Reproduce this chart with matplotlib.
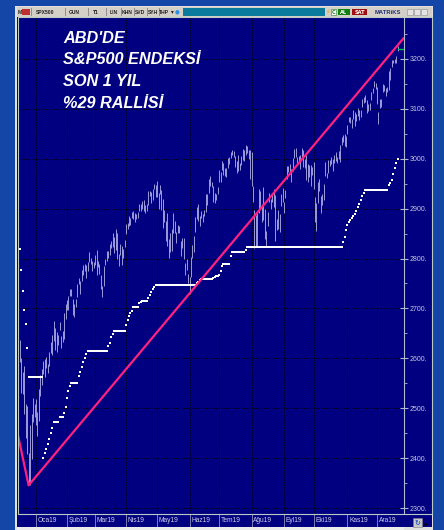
import matplotlib
matplotlib.use("Agg")
import matplotlib.pyplot as plt
from matplotlib.patches import Rectangle
from matplotlib.ticker import MultipleLocator, FuncFormatter

W, H = 444, 530

# --- data (bar index = trading day, 0 = 14 Dec 2018) ---
months = ["Oca19", "Şub19", "Mar19", "Nis19", "May19", "Haz19",
          "Tem19", "Ağu19", "Eyl19", "Eki19", "Kas19", "Ara19"]
month_start = [11, 32, 51, 72, 93, 115, 135, 157, 179, 199, 222, 242]

high = [
    # Ara18
    2637, 2601, 2573, 2585, 2509, 2504, 2410, 2467, 2489, 2520, 2509,
    # Oca19
    2519, 2493, 2538, 2566, 2579, 2595, 2598, 2602, 2589, 2613, 2632, 2646, 2675, 2661, 2653, 2647, 2673,
    2645, 2654, 2690, 2708,
    # Sub19
    2717, 2724, 2738, 2739, 2718, 2708, 2719, 2748, 2761, 2755, 2776, 2788, 2789, 2786, 2793, 2814, 2801,
    2795, 2793,
    # Mar19
    2808, 2817, 2796, 2790, 2767, 2744, 2785, 2799, 2816, 2815, 2830, 2836, 2852, 2843, 2860, 2852, 2809,
    2829, 2825, 2820, 2837,
    # Nis19
    2869, 2872, 2885, 2881, 2893, 2896, 2891, 2889, 2893, 2910, 2909, 2916, 2918, 2908, 2909, 2936, 2936,
    2933, 2940, 2949, 2948,
    # May19
    2955, 2931, 2947, 2937, 2920, 2897, 2875, 2892, 2840, 2852, 2859, 2892, 2876, 2853, 2868, 2865, 2836,
    2841, 2841, 2792, 2799, 2768,
    # Haz19
    2763, 2804, 2827, 2846, 2884, 2904, 2910, 2885, 2895, 2889, 2898, 2930, 2929, 2959, 2965, 2954, 2946,
    2932, 2930, 2944,
    # Tem19
    2978, 2974, 2996, 2992, 2981, 2981, 3002, 3003, 3014, 3017, 3015, 3006, 2996, 3007, 2991, 3006, 3019,
    3017, 3028, 3025, 3017, 3017,
    # Agu19
    3014, 2946, 2898, 2887, 2892, 2939, 2935, 2909, 2943, 2899, 2856, 2893, 2931, 2920, 2928, 2940, 2928,
    2879, 2898, 2890, 2930, 2941,
    # Eyl19
    2914, 2938, 2985, 2986, 2989, 2980, 3001, 3020, 3021, 3003, 3006, 3008, 3022, 3017, 2999, 3007, 2989,
    2987, 2988, 2983,
    # Eki19
    2993, 2924, 2911, 2953, 2959, 2925, 2929, 2949, 2993, 2972, 2998, 2997, 3004, 3000, 3008, 3014, 3004,
    3016, 3027, 3044, 3047, 3050, 3046,
    # Kas19
    3067, 3084, 3083, 3079, 3097, 3094, 3089, 3102, 3098, 3098, 3120, 3124, 3127, 3118, 3110, 3112, 3134,
    3142, 3155, 3151,
    # Ara19
    3144, 3094, 3120, 3120, 3150, 3148, 3142, 3143, 3176, 3182, 3198, 3198, 3199, 3206, 3226,
]

low = [
    2593, 2530, 2528, 2488, 2441, 2408, 2351, 2347, 2398, 2472, 2482,
    2467, 2444, 2474, 2524, 2547, 2568, 2562, 2580, 2570, 2585, 2610, 2606, 2634, 2617, 2612, 2627, 2657,
    2621, 2633, 2639, 2678,
    2697, 2696, 2724, 2725, 2687, 2682, 2703, 2722, 2748, 2729, 2754, 2767, 2774, 2760, 2775, 2794, 2789,
    2775, 2781,
    2788, 2767, 2782, 2768, 2739, 2722, 2745, 2786, 2796, 2801, 2808, 2821, 2823, 2812, 2817, 2800, 2785,
    2808, 2788, 2802, 2823,
    2849, 2859, 2866, 2867, 2882, 2880, 2874, 2880, 2882, 2896, 2896, 2900, 2896, 2891, 2896, 2908, 2926,
    2912, 2917, 2940, 2924,
    2923, 2900, 2930, 2898, 2862, 2873, 2836, 2825, 2801, 2813, 2815, 2852, 2851, 2831, 2852, 2851, 2805,
    2821, 2799, 2766, 2776, 2750,
    2728, 2762, 2801, 2814, 2853, 2880, 2876, 2866, 2882, 2874, 2885, 2893, 2907, 2932, 2946, 2944, 2913,
    2912, 2918, 2929,
    2953, 2953, 2977, 2967, 2965, 2963, 2981, 2989, 3001, 3008, 3003, 2984, 2971, 2976, 2977, 2988, 2997,
    2996, 3008, 3012, 3000, 2959,
    2945, 2914, 2822, 2825, 2826, 2891, 2901, 2873, 2878, 2840, 2826, 2865, 2913, 2899, 2913, 2904, 2835,
    2857, 2860, 2853, 2905, 2914,
    2891, 2922, 2960, 2974, 2970, 2954, 2976, 3001, 3004, 2991, 2993, 2979, 3003, 2983, 2982, 2957, 2953,
    2963, 2946, 2968,
    2939, 2874, 2855, 2911, 2935, 2892, 2907, 2917, 2965, 2962, 2971, 2985, 2989, 2976, 2992, 2995, 2991,
    2999, 2994, 3027, 3033, 3026, 3024,
    3050, 3073, 3072, 3061, 3080, 3066, 3076, 3085, 3078, 3083, 3104, 3111, 3113, 3091, 3095, 3097, 3117,
    3131, 3143, 3139,
    3110, 3070, 3102, 3103, 3134, 3135, 3125, 3133, 3138, 3157, 3184, 3191, 3191, 3191, 3216,
]

# white trailing stop dots
stop = [
    2820, 2776, 2735, 2697, 2668, 2621, 2562, 2562, 2562, 2562, 2562,
    2562, 2562, 2562, 2562, 2562, 2400, 2410, 2418, 2428, 2438, 2451, 2460, 2472, 2472, 2472, 2472, 2483,
    2483, 2483, 2491, 2502,
    2520, 2534, 2545, 2550, 2550, 2550, 2550, 2550, 2565, 2572, 2582, 2592, 2600, 2608, 2615, 2615, 2615,
    2615, 2615,
    2615, 2615, 2615, 2615, 2615, 2615, 2615, 2615, 2615, 2625, 2631, 2643, 2648, 2655, 2655, 2655, 2655,
    2655, 2655, 2655, 2655,
    2667, 2677, 2685, 2690, 2695, 2703, 2703, 2703, 2703, 2710, 2713, 2715, 2715, 2715, 2715, 2720, 2726,
    2732, 2738, 2743, 2746,
    2746, 2746, 2746, 2746, 2746, 2746, 2746, 2746, 2746, 2746, 2746, 2746, 2746, 2746, 2746, 2746, 2746,
    2746, 2746, 2746, 2746, 2746,
    2746, 2746, 2746, 2746, 2746, 2750, 2753, 2756, 2758, 2758, 2758, 2758, 2758, 2758, 2758, 2758, 2760,
    2762, 2764, 2765,
    2766, 2775, 2784, 2790, 2790, 2790, 2790, 2790, 2805, 2813, 2813, 2813, 2813, 2813, 2813, 2813, 2813,
    2813, 2818, 2823, 2823, 2823,
    2823, 2823, 2823, 2823, 2823, 2823, 2823, 2823, 2823, 2823, 2823, 2823, 2823, 2823, 2823, 2823, 2823,
    2823, 2823, 2823, 2823, 2823,
    2823, 2823, 2823, 2823, 2823, 2823, 2823, 2823, 2823, 2823, 2823, 2823, 2823, 2823, 2823, 2823, 2823,
    2823, 2823, 2823,
    2823, 2823, 2823, 2823, 2823, 2823, 2823, 2823, 2823, 2823, 2823, 2823, 2823, 2823, 2823, 2823, 2823,
    2823, 2823, 2823, 2833, 2843, 2857,
    2867, 2873, 2878, 2882, 2885, 2890, 2896, 2903, 2910, 2918, 2925, 2931, 2938, 2938, 2938, 2938, 2938,
    2938, 2938, 2938,
    2938, 2938, 2938, 2938, 2938, 2938, 2938, 2938, 2947, 2952, 2957, 2970, 2982, 2992, 3000,
]

# pink trend line (bar index, price)
trend_x = [-1.2, 6, 260.3]
trend_y = [2446, 2346, 3242]
last_price = 3219

title_lines = ["ABD'DE", "S&P500 ENDEKSİ", "SON 1 YIL", "%29 RALLİSİ"]

NAVY = "#000080"
FRAME = "#1446a8"


def fx(x):
    return x / W


def fy(y):
    return 1 - y / H


def rect(x0, y0, x1, y1, fc, ec="none", lw=0, z=1):
    fig.add_artist(Rectangle((fx(x0), fy(y1)), (x1 - x0) / W, (y1 - y0) / H,
                             transform=fig.transFigure, fc=fc, ec=ec, lw=lw, zorder=z))


def txt(x, y, s, **kw):
    fig.text(fx(x), fy(y), s, **kw)


fig = plt.figure(figsize=(W / 100, H / 100), dpi=100)
fig.patch.set_facecolor(FRAME)

# window body (behind the axes)
rect(15, 6, 433, 530, "#e0e0e0", z=-3)
rect(17, 17, 432, 527, NAVY, z=-2)

# chart
ax = fig.add_axes([fx(18), fy(513), fx(404) - fx(18), (513 - 17) / H])
ax.set_facecolor(NAVY)
ax.set_xlim(-1.2, 260.3)
ax.set_ylim(2290.6, 3283.4)

xs = list(range(len(high)))
ax.vlines(xs, low, high, color="#c4c4f4", lw=0.55, zorder=3)
ax.plot(xs, stop, "s", color="white", ms=1.9, mew=0, zorder=4)
ax.plot(trend_x, trend_y, color="#ff2080", lw=1.6, zorder=5, solid_capstyle="butt")
ax.plot([256.5, 260.3], [last_price, last_price], color="#00c040", lw=1, zorder=5)

ax.yaxis.tick_right()
ax.yaxis.set_major_locator(MultipleLocator(100))
ax.yaxis.set_minor_locator(MultipleLocator(50))
ax.yaxis.set_major_formatter(FuncFormatter(lambda v, p: "%d." % v))
ax.tick_params(axis="y", which="major", direction="inout", length=6, width=0.8,
               color="#b0b8d0", labelsize=5, labelcolor="#c8c8e0", pad=1)
ax.tick_params(axis="y", which="minor", direction="out", length=2, width=0.6, color="#b0b8d0")
for lab in ax.get_yticklabels():
    lab.set_fontfamily("Liberation Sans")
ax.set_xticks(month_start)
ax.tick_params(axis="x", length=0, labelbottom=False)
ax.grid(True, which="major", color="black", lw=0.6, ls=(0, (1.5, 1.5)))
for s in ["top", "left", "bottom"]:
    ax.spines[s].set_visible(False)
ax.spines["right"].set_color("#b0b8d0")
ax.spines["right"].set_linewidth(0.8)

for i, line in enumerate(title_lines):
    txt(63, 42.7 + i * 21.8, line, color="white", fontsize=11.7, fontweight="bold",
        fontstyle="italic", family="Liberation Sans", va="baseline", ha="left")

# plot border
rect(17.5, 17, 432, 513.5, "none", ec="#b8ccc4", lw=0.8, z=6)

# month strip
axm = fig.add_axes([fx(18), fy(527), fx(404) - fx(18), 13.5 / H])
axm.set_xlim(ax.get_xlim())
axm.set_ylim(0, 1)
axm.axis("off")
axm.vlines(month_start, 0, 1, color="#9090c0", lw=0.6)
for m, x in zip(months, month_start):
    axm.text(x + 1.2, 0.45, m, color="#d0d0e8", fontsize=4.8, family="Liberation Sans",
             va="center", ha="left")

# scroll bar + corner icons
rect(17, 527, 404, 530, "#ececec", z=2)
rect(413, 518, 422, 527, "#c8c8c8", ec="#808080", lw=0.4, z=2)
txt(417.5, 523, "↻", color="#2050c0", fontsize=5, ha="center", va="center", weight="bold")
txt(427, 523.5, "◂▸", color="black", fontsize=4, ha="center", va="center")

# title bar
rect(17, 7, 432, 16.5, "#d4d0c8", z=2)
rect(183, 8, 325, 15.5, "#0a7b9c", z=3)
tb = [(19.5, "M"), (45, "SPX500"), (74, "GUN"), (96, "T1"), (114, "LIN"), (127.5, "KHN"),
      (140.5, "SVD"), (153, "SYH"), (164, "THP")]
for x, s in tb:
    txt(x, 12, s, color="#202020", fontsize=3.6, weight="bold", ha="center", va="center",
        family="Liberation Sans", zorder=4)
for x in [31, 65, 88, 106, 121, 134, 147, 159]:
    rect(x, 8, x + 0.5, 15.5, "#909090", z=3)
rect(22, 9, 30, 15, "#c03030", z=3)
txt(172, 12, "▾", color="#202020", fontsize=4, ha="center", va="center")
txt(177, 12, "●", color="#3090e0", fontsize=4, ha="center", va="center")
txt(328, 12, "⚡", color="#e0a000", fontsize=4.5, ha="center", va="center")
rect(331, 9, 336, 15, "#ffffff", ec="#208020", lw=0.4, z=3)
txt(333.5, 12, "C", color="#208020", fontsize=3.6, weight="bold", ha="center", va="center")
rect(338, 9, 350, 15, "#108010", z=3)
txt(344, 12, "AL", color="white", fontsize=3.6, weight="bold", ha="center", va="center")
rect(352, 9, 367, 15, "#a01010", z=3)
txt(359.5, 12, "SAT", color="white", fontsize=3.6, weight="bold", ha="center", va="center")
txt(388, 12, "MATRiKS", color="#203070", fontsize=4.2, weight="bold", ha="center", va="center",
    family="Liberation Sans")
for x in [407, 414, 421]:
    rect(x, 9, x + 6, 15, "#e4e4e4", ec="#909090", lw=0.4, z=3)

fig.savefig("out.png", dpi=100, facecolor=fig.get_facecolor())
